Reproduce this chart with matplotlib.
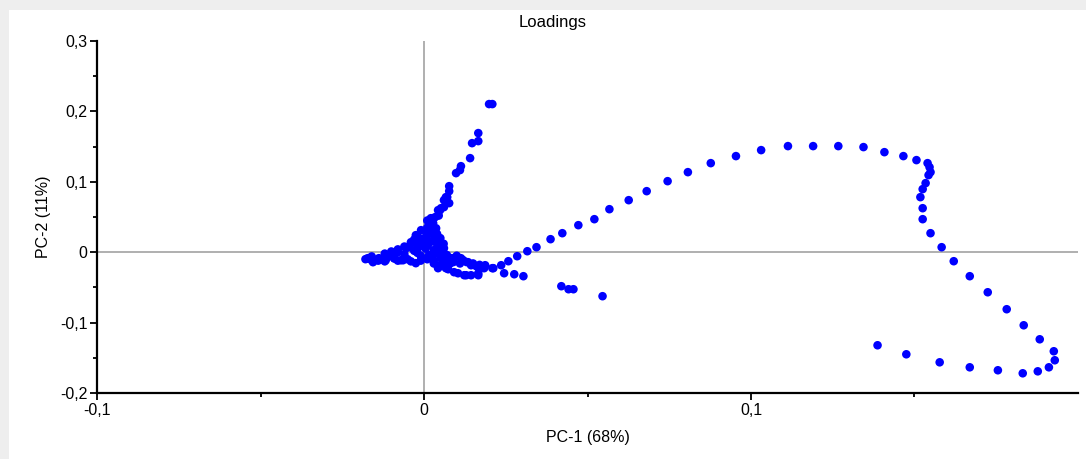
import matplotlib.pyplot as plt
from matplotlib.patches import Rectangle
from matplotlib.ticker import FixedLocator

plt.rcParams['font.family'] = ['Liberation Sans', 'DejaVu Sans']

# long arc of loadings (PC-1, PC-2)
curve_x = [0.0187, 0.0209, 0.0236, 0.0258, 0.0285, 0.0316, 0.0344, 0.0387, 0.0423,
           0.0472, 0.0521, 0.0567, 0.0626, 0.0681, 0.0745, 0.0807, 0.0877, 0.0954,
           0.1031, 0.1113, 0.1190, 0.1267, 0.1344, 0.1408, 0.1466, 0.1506, 0.1540,
           0.1546, 0.1549, 0.1543, 0.1534, 0.1525, 0.1518, 0.1525, 0.1525, 0.1549,
           0.1583, 0.1620, 0.1669, 0.1724, 0.1782, 0.1834, 0.1883, 0.1926, 0.1929,
           0.1911, 0.1877, 0.1831, 0.1755, 0.1669, 0.1577, 0.1475, 0.1387]
curve_y = [-0.0185, -0.0227, -0.0185, -0.0128, -0.0057, 0.0014, 0.0071, 0.0185, 0.0270,
           0.0384, 0.0469, 0.0611, 0.0739, 0.0867, 0.1009, 0.1137, 0.1265, 0.1365,
           0.1450, 0.1507, 0.1507, 0.1507, 0.1493, 0.1421, 0.1365, 0.1308, 0.1265,
           0.1208, 0.1137, 0.1095, 0.0981, 0.0896, 0.0782, 0.0625, 0.0469, 0.0270,
           0.0071, -0.0128, -0.0341, -0.0569, -0.0810, -0.1038, -0.1237, -0.1407, -0.1535,
           -0.1635, -0.1692, -0.1720, -0.1677, -0.1635, -0.1564, -0.1450, -0.1322]

# upward branch
up_x = [0.0199, 0.0209, 0.0166, 0.0166, 0.0147, 0.0141, 0.0113, 0.0110, 0.0098,
        0.0077, 0.0077, 0.0071, 0.0077, 0.0061, 0.0049, 0.0034, 0.0021, 0.0028,
        0.0025, 0.0037, 0.0015, 0.0031, 0.0012]
up_y = [0.2104, 0.2104, 0.1692, 0.1578, 0.1549, 0.1336, 0.1222, 0.1166, 0.1123,
        0.0938, 0.0867, 0.0782, 0.0697, 0.0640, 0.0597, 0.0498, 0.0483, 0.0412,
        0.0384, 0.0340, 0.0310, 0.0240, 0.0170]

# lower branch
low_x = [0.0245, 0.0276, 0.0304, 0.0420, 0.0442, 0.0457, 0.0546, 0.0135, 0.0160,
         0.0166, 0.0129, 0.0104, 0.0074, 0.0043, 0.0083, 0.0113, 0.0052, 0.0061,
         0.0092, 0.0123, 0.0144, 0.0166, 0.0184, 0.0212, 0.0043, 0.0067]
low_y = [-0.0299, -0.0313, -0.0341, -0.0483, -0.0526, -0.0526, -0.0625, -0.0142, -0.0199,
         -0.0327, -0.0327, -0.0299, -0.0242, -0.0213, -0.0085, -0.0085, 0.0071, 0.0057,
         -0.0284, -0.0327, -0.0327, -0.0299, -0.0227, -0.0227, -0.0227, -0.0227]

# dense core around the origin
core_x = [-0.0179, -0.0172, -0.0165, -0.0156, -0.0150, -0.0138, -0.0130, -0.0117, -0.0110,
          -0.0101, -0.0092, -0.0090, -0.0080, -0.0071, -0.0064, -0.0060, -0.0055, -0.0050,
          -0.0046, -0.0040, -0.0030, -0.0025, -0.0025, -0.0020, -0.0018, -0.0010, -0.0009,
          0.0000, 0.0005, 0.0010, 0.0012, 0.0015, 0.0020, 0.0021, 0.0021, 0.0030, 0.0031,
          0.0030, 0.0037, 0.0040, 0.0043, 0.0043, 0.0052, 0.0052, 0.0052, 0.0058, 0.0060,
          0.0061, 0.0067, 0.0070, 0.0080, 0.0089, 0.0100, 0.0120, 0.0144, 0.0166,
          -0.0120, -0.0080, -0.0060, -0.0040, -0.0030, -0.0020, -0.0010, 0.0010, 0.0020,
          0.0030, 0.0040, 0.0050, 0.0060, 0.0030, 0.0050, -0.0140, -0.0120, -0.0080,
          -0.0040, -0.0010, 0.0010, 0.0030, 0.0050, 0.0070, 0.0090, 0.0110, 0.0130,
          0.0150, 0.0170, -0.0160, -0.0100, -0.0020, 0.0000, 0.0010, 0.0035, 0.0045]
core_y = [-0.0099, -0.0085, -0.0100, -0.0142, -0.0110, -0.0085, -0.0100, -0.0114, -0.0060,
          -0.0043, -0.0085, -0.0090, 0.0000, -0.0114, -0.0114, -0.0030, 0.0057, -0.0100,
          0.0071, 0.0142, 0.0020, -0.0156, 0.0242, 0.0100, 0.0213, -0.0050, 0.0313,
          0.0199, 0.0050, 0.0260, 0.0100, -0.0043, 0.0300, 0.0384, -0.0071, 0.0030, 0.0242,
          -0.0120, 0.0171, 0.0040, 0.0100, 0.0597, -0.0043, 0.0625, -0.0085, 0.0057, -0.0140,
          0.0739, 0.0782, -0.0040, -0.0160, -0.0085, -0.0050, -0.0114, -0.0185, -0.0213,
          -0.0020, 0.0040, 0.0080, 0.0120, 0.0180, 0.0050, 0.0150, 0.0350, 0.0420,
          0.0150, 0.0260, 0.0200, 0.0120, -0.0030, -0.0060, -0.0120, -0.0130, -0.0120,
          -0.0130, -0.0120, -0.0100, -0.0160, -0.0180, -0.0120, -0.0140, -0.0160, -0.0140,
          -0.0160, -0.0180, -0.0060, 0.0010, -0.0010, 0.0080, 0.0450, 0.0330, 0.0520]

xticks = [-0.1, 0.0, 0.1]
xtick_labels = ['-0,1', '0', '0,1']
yticks = [-0.2, -0.1, 0.0, 0.1, 0.2, 0.3]
ytick_labels = ['-0,2', '-0,1', '0', '0,1', '0,2', '0,3']

fig = plt.figure(figsize=(10.86, 4.59), dpi=100, facecolor='#eeeeee')
# white card behind the chart
fig.add_artist(Rectangle((9 / 1086, 0), 1, 1 - 10 / 459, transform=fig.transFigure,
                         facecolor='white', edgecolor='none', zorder=-10))
ax = fig.add_axes([97 / 1086, 1 - 393 / 459, (1078 - 97) / 1086, (393 - 41) / 459])
ax.set_facecolor('none')

ax.axhline(0, color='#9a9a9a', lw=1.1, zorder=1)
ax.axvline(0, color='#9a9a9a', lw=1.1, zorder=1)

for xs, ys in [(core_x, core_y), (up_x, up_y), (low_x, low_y), (curve_x, curve_y)]:
    ax.scatter(xs, ys, s=38, color='#0000ff', edgecolors='none', zorder=3)

ax.set_xlim(-0.1, 0.2)
ax.set_ylim(-0.2, 0.3)
ax.set_xticks(xticks)
ax.set_xticklabels(xtick_labels)
ax.set_yticks(yticks)
ax.set_yticklabels(ytick_labels)
ax.xaxis.set_minor_locator(FixedLocator([-0.05, 0.05, 0.15]))
ax.yaxis.set_minor_locator(FixedLocator([-0.15, -0.05, 0.05, 0.15, 0.25]))
ax.tick_params(which='major', direction='out', length=5, width=1.3, labelsize=11.5, pad=2)
ax.tick_params(which='minor', direction='out', length=3, width=1.3)

for side in ['top', 'right']:
    ax.spines[side].set_visible(False)
for side in ['left', 'bottom']:
    ax.spines[side].set_linewidth(1.6)

ax.set_xlabel('PC-1 (68%)', fontsize=11.5, labelpad=9)
ax.set_ylabel('PC-2 (11%)', fontsize=11.5, labelpad=6)
fig.text(553 / 1086, 1 - 22 / 459, 'Loadings', fontsize=12, ha='center', va='center')

fig.savefig('out.png', dpi=100, facecolor=fig.get_facecolor())
